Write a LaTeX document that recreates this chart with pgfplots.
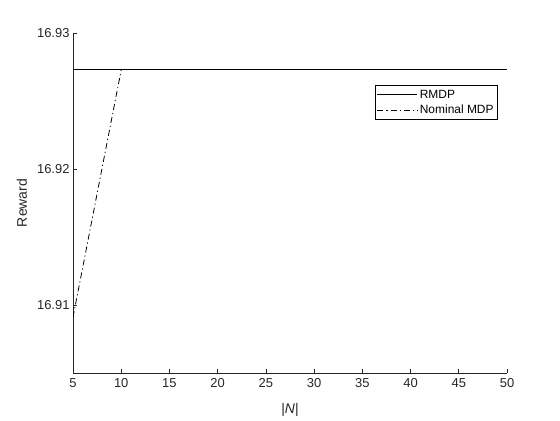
\documentclass[border=0pt]{standalone}
\usepackage{pgfplots}
\pgfplotsset{compat=1.18}
\usepackage{fontspec}
\setmainfont{Liberation Sans}
\definecolor{axgray}{RGB}{38,38,38}
\begin{document}
\begin{tikzpicture}[x=1bp,y=1bp]
\useasboundingbox (0,0) rectangle (560,420);
\begin{axis}[
  at={(73bp,47bp)},anchor=south west,
  scale only axis,width=434bp,height=340bp,
  xmin=5,xmax=50,ymin=16.905,ymax=16.93,
  xtick={5,10,...,50},
  ytick={16.91,16.92,16.93},
  yticklabel style={/pgf/number format/fixed,/pgf/number format/precision=2,/pgf/number format/fixed zerofill},
  /pgf/number format/assume math mode=true,
  axis lines=left,
  axis line style={-,draw=axgray,line width=0.7bp},
  tick style={draw=axgray,line width=0.7bp},
  tick align=inside,
  major tick length=4bp,
  tick label style={font=\fontsize{13}{15}\selectfont,text=axgray},
  label style={font=\fontsize{14}{16}\selectfont,text=axgray},
  xticklabel style={yshift=-2bp},
  xlabel={|\textit{N}|},
  ylabel={Reward},
  xlabel style={at={(axis description cs:0.5,-0.109)},anchor=center},
  ylabel style={at={(axis description cs:-0.1175,0.5)},anchor=center},
  legend style={at={(rel axis cs:0.979,0.847)},anchor=north east,
    font=\fontsize{12}{14}\selectfont,draw=black,line width=0.6bp,
    inner xsep=2bp,inner ysep=2.5bp,row sep=1.5bp},
  legend cell align=left,
  legend image code/.code={\draw[#1] (0bp,0bp) -- (40bp,0bp);},
]
  \addplot[black,line width=0.8bp] coordinates {(5,16.92729) (50,16.92729)};
  \addlegendentry{RMDP}
  \addplot[black,line width=0.8bp,dash pattern=on 6bp off 3bp on 1.2bp off 3bp] coordinates {(5,16.90910) (10,16.92729)};
  \addlegendentry{Nominal MDP}
\end{axis}
\end{tikzpicture}
\end{document}
